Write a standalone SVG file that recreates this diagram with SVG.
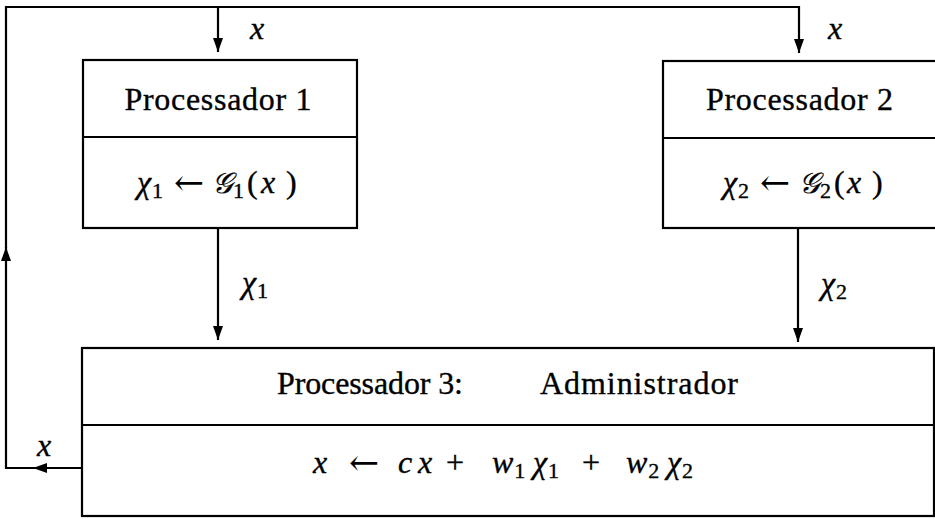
<svg xmlns="http://www.w3.org/2000/svg" width="935" height="519" viewBox="0 0 935 519">
<style>
  .box { fill: #ffffff; stroke: #000000; stroke-width: 2.2; }
  .div { stroke: #000000; stroke-width: 2.2; fill: none; }
  .wire { stroke: #000000; stroke-width: 2.2; fill: none; }
  .t { font-family: "Liberation Serif", "DejaVu Serif", serif; font-size: 32px; fill: #000000; stroke: #000000; stroke-width: 0.35px; }
  .i { font-style: italic; }
  .sub { font-size: 22px; font-style: normal; }
  .arr { font-family: "DejaVu Serif", "DejaVu Sans", serif; font-size: 36px; stroke-width: 0; }
  .cal { font-family: "DejaVu Serif", "DejaVu Sans", "Liberation Serif", serif; font-style: italic; font-size: 29px; }
</style>
<defs>
  <marker id="ah" viewBox="0 0 14 10" refX="14" refY="5" markerWidth="14" markerHeight="10" markerUnits="userSpaceOnUse" orient="auto">
    <path d="M0,0 L14,5 L0,10 z" fill="#000000"/>
  </marker>
</defs>
<rect width="935" height="519" fill="#ffffff"/>

<g id="connectors">
  <path class="wire" d="M82,468 L33,468" marker-end="url(#ah)"/>
  <path class="wire" d="M34,468 L6,468 L6,247" marker-end="url(#ah)"/>
  <path class="wire" d="M6,248 L6,7 L799,7 L799,53" marker-end="url(#ah)"/>
  <path class="wire" d="M218,7 L218,52" marker-end="url(#ah)"/>
  <path class="wire" d="M218,228 L218,340" marker-end="url(#ah)"/>
  <path class="wire" d="M798,228 L798,342" marker-end="url(#ah)"/>
</g>

<g id="edge-labels">
  <text class="t i" x="250" y="39">x</text>
  <text class="t i" x="828" y="39">x</text>
  <text class="t i" x="242" y="293">χ<tspan class="sub" dx="1" dy="5">1</tspan></text>
  <text class="t i" x="821" y="294">χ<tspan class="sub" dx="1" dy="5">2</tspan></text>
  <text class="t i" x="37" y="456">x</text>
</g>

<g id="proc1">
  <rect class="box" x="83" y="60" width="274" height="168"/>
  <line class="div" x1="83" y1="137" x2="357" y2="137"/>
  <text class="t" x="218" y="110" text-anchor="middle" textLength="187" lengthAdjust="spacing">Processador 1</text>
  <text class="t"><tspan class="i" x="137" y="193">χ</tspan><tspan class="sub" dx="1" dy="5">1</tspan><tspan class="arr" x="174" y="195">←</tspan><tspan class="cal" x="212" y="193">𝒢</tspan><tspan class="sub" dx="0" dy="5">1</tspan><tspan x="247" y="193">(</tspan><tspan class="i" x="261" y="193">x</tspan><tspan x="286" y="193">)</tspan></text>
</g>

<g id="proc2">
  <rect class="box" x="663" y="61" width="290" height="167"/>
  <line class="div" x1="663" y1="138" x2="935" y2="138"/>
  <text class="t" x="799.5" y="110" text-anchor="middle" textLength="187" lengthAdjust="spacing">Processador 2</text>
  <text class="t"><tspan class="i" x="723" y="193">χ</tspan><tspan class="sub" dx="1" dy="5">2</tspan><tspan class="arr" x="760" y="195">←</tspan><tspan class="cal" x="799" y="193">𝒢</tspan><tspan class="sub" dx="0" dy="5">2</tspan><tspan x="834" y="193">(</tspan><tspan class="i" x="847" y="193">x</tspan><tspan x="872" y="193">)</tspan></text>
</g>

<g id="proc3">
  <rect class="box" x="82" y="348" width="852" height="168"/>
  <line class="div" x1="82" y1="425" x2="934" y2="425"/>
  <text class="t" x="277" y="394" textLength="186" lengthAdjust="spacing">Processador 3:</text>
  <text class="t" x="540" y="394" textLength="198" lengthAdjust="spacing">Administrador</text>
  <text class="t"><tspan class="i" x="313" y="473">x</tspan><tspan class="arr" x="349" y="475">←</tspan><tspan class="i" x="398" y="473">c</tspan><tspan class="i" x="418" y="473">x</tspan><tspan x="446" y="473">+</tspan><tspan class="i" x="492" y="473">w</tspan><tspan class="sub" dx="1" dy="5">1</tspan><tspan class="i" x="533" y="473">χ</tspan><tspan class="sub" dx="1" dy="5">1</tspan><tspan x="582" y="473">+</tspan><tspan class="i" x="626" y="473">w</tspan><tspan class="sub" dx="1" dy="5">2</tspan><tspan class="i" x="667" y="473">χ</tspan><tspan class="sub" dx="1" dy="5">2</tspan></text>
</g>
</svg>
